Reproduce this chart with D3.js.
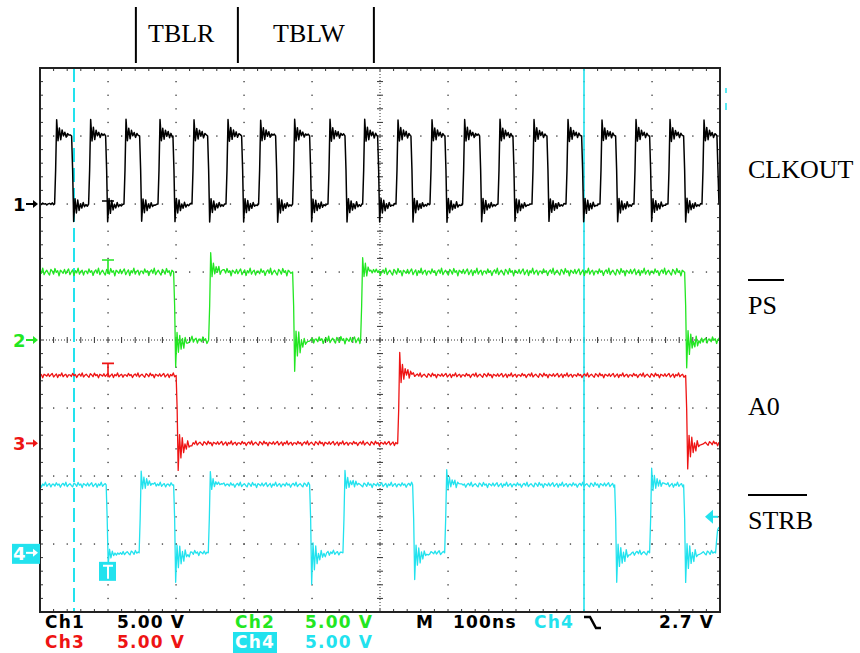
<!DOCTYPE html>
<html><head><meta charset="utf-8">
<script src="https://cdn.jsdelivr.net/npm/d3@7"></script>
<style>body{margin:0;background:#fff}svg{display:block}</style>
</head><body>
<script>
// ---------------- data ----------------
const timeDomainNs = [0, 1000];          // 10 div x 100 ns
const divDomain = [-4, 4];               // 8 vertical divisions
const channelNames = ["CLKOUT", "PS", "A0", "STRB"];
const channelColors = ["#000000", "#22e622", "#ee1414", "#22e2ee"];
const channelOffsetDiv = [2.0, 0, -1.52, -3.13];
const voltsPerDiv = [5, 5, 5, 5];
const noiseVolts = [0.09, 0.32, 0.2, 0.22];

// CH1 clock edges (ns)
const clkRiseNs = [22, 72, 124, 174, 224, 274, 322, 372, 424, 475, 524, 574, 622, 674, 724, 774, 824, 874, 924, 974];
const clkFallNs = [47, 97, 147, 196, 247, 297, 347, 397, 449, 497, 546, 596, 647, 696, 746, 797, 847, 897, 947, 996];
const clkLevels = [0, 5];
const clkPeaks = [-1.3, 6.2];

// other channels: [time ns, new level V, overshoot peak V]
const psStart = 5;
const psEdges = [[197, 0, -2.0], [248.5, 5, 6.4], [372, 0, -2.4], [472, 5, 6.0], [948.5, 0, -2.0]];
const a0Start = 5;
const a0Edges = [[200.7, 0, -2.0], [526.5, 5, 6.6], [950, 0, -1.9]];
const strbStart = 5;
const strbEdges = [[97.8, 0, -0.8], [146.3, 5, 6.1], [197, 0, -2.2], [248, 5, 5.9], [397, 0, -2.3], [446, 5, 6.1],
                   [548.5, 0, -1.9], [595.6, 5, 6.2], [845.6, 0, -2.2], [897, 5, 6.2], [947, 0, -2.2], [994, 1.8, 1.8]];

// edge ringing shape (fraction of overshoot) and hand-read trace hiss
const ringing = [1, -0.3, 0.5, -0.2, 0.35, 0.0, 0.25, -0.1, 0.15, 0.05, 0.1, 0];
const hiss = [0.2, -0.4, 0.7, -0.1, 0.3, -0.8, 0.1, 0.5, -0.3, 0.9, -0.6, 0.0, 0.4, -0.2, -0.7, 0.6, 0.2, -0.5, 0.8, -0.1,
              0.3, -0.9, 0.4, 0.1, -0.3, 0.6, -0.4, 0.2, 0.7, -0.6, 0.0, 0.5, -0.8, 0.3, -0.2, 0.9, -0.5, 0.1, 0.4, -0.7, 0.2];

const cursorNs = [50, 800];
const triggerNs = 100;
const trigLevelDiv = -2.6;
const topLabels = ["TBLR", "TBLW"];
const topMarkNs = [141, 291, 491];
const readRow1 = ["Ch1", "5.00 V", "Ch2", "5.00 V"];
const readRow2 = ["Ch3", "5.00 V", "Ch4", "5.00 V"];
const timebase = ["M", "100ns", "Ch4", "2.7 V"];

// ---------------- layout ----------------
const W = 860, H = 653;
const svg = d3.select("body").append("svg").attr("width", W).attr("height", H);
const x = d3.scaleLinear().domain(timeDomainNs).range([40, 720]);
const y = d3.scaleLinear().domain(divDomain).range([612, 68]);
const yc = (ch, v) => y(channelOffsetDiv[ch] + v / voltsPerDiv[ch]);

// grid
const grid = svg.append("g");
const dot = (px, py) => grid.append("rect").attr("x", px - 0.6).attr("y", py - 0.6).attr("width", 1.3).attr("height", 1.3).attr("fill", "#333");
const minorX = d3.range(0, 1000.01, 20);
const minorY = d3.range(-4, 4.001, 0.2);
d3.range(100, 1000, 100).filter(t => t !== 500).forEach(t => minorY.forEach(d => dot(x(t), y(d))));
d3.range(-3, 4, 1).filter(d => d !== 0).forEach(d => minorX.forEach(t => dot(x(t), y(d))));
// center crosshair
grid.append("line").attr("x1", x(0)).attr("x2", x(1000)).attr("y1", y(0)).attr("y2", y(0))
  .attr("stroke", "#333").attr("stroke-width", 1).attr("stroke-dasharray", "1,2");
grid.append("line").attr("x1", x(500)).attr("x2", x(500)).attr("y1", y(-4)).attr("y2", y(4))
  .attr("stroke", "#333").attr("stroke-width", 1).attr("stroke-dasharray", "1,2");
minorX.forEach(t => grid.append("line").attr("x1", x(t)).attr("x2", x(t)).attr("y1", y(0) - 3).attr("y2", y(0) + 3).attr("stroke", "#333"));
minorY.forEach(d => grid.append("line").attr("x1", x(500) - 3).attr("x2", x(500) + 3).attr("y1", y(d)).attr("y2", y(d)).attr("stroke", "#333"));
// edge ticks
minorX.forEach(t => {
  grid.append("line").attr("x1", x(t)).attr("x2", x(t)).attr("y1", y(4)).attr("y2", y(4) + 3).attr("stroke", "#333");
  grid.append("line").attr("x1", x(t)).attr("x2", x(t)).attr("y1", y(-4)).attr("y2", y(-4) - 3).attr("stroke", "#333");
});
minorY.forEach(d => {
  grid.append("line").attr("x1", x(0)).attr("x2", x(0) + 3).attr("y1", y(d)).attr("y2", y(d)).attr("stroke", "#333");
  grid.append("line").attr("x1", x(1000)).attr("x2", x(1000) - 3).attr("y1", y(d)).attr("y2", y(d)).attr("stroke", "#333");
});

// cursors
svg.append("line").attr("x1", x(cursorNs[0])).attr("x2", x(cursorNs[0])).attr("y1", y(4)).attr("y2", y(-4))
  .attr("stroke", channelColors[3]).attr("stroke-width", 2).attr("stroke-dasharray", "14,6");
svg.append("line").attr("x1", x(cursorNs[1])).attr("x2", x(cursorNs[1])).attr("y1", y(4)).attr("y2", y(-4))
  .attr("stroke", channelColors[3]).attr("stroke-width", 1.6);

// traces
const STEP = 2;
function buildTrace(start, edges, amp, off) {
  const pts = [];
  let k = off;
  const n = () => hiss[(k++) % hiss.length] * amp;
  let lvl = start, t = 0;
  edges.forEach(([te, L, P], i) => {
    const next = i + 1 < edges.length ? edges[i + 1][0] : 1000;
    for (; t < te - 1; t += STEP) pts.push([t, lvl + n()]);
    pts.push([te - 0.5, lvl]);
    pts.push([te + 1, lvl + 0.5 * (L - lvl)]);
    let tt = te + 2.5;
    for (const r of ringing) {
      if (tt >= next - 1.5 || tt > 1000) break;
      pts.push([tt, L + (P - L) * r + n() * 0.5]);
      tt += STEP;
    }
    lvl = L; t = tt;
  });
  for (; t <= 1000; t += STEP) pts.push([t, lvl + n()]);
  return pts;
}
const clkEdges = clkRiseNs.map(t => [t, clkLevels[1], clkPeaks[1]])
  .concat(clkFallNs.map(t => [t, clkLevels[0], clkPeaks[0]])).sort((a, b) => a[0] - b[0]);
const traces = [
  buildTrace(clkLevels[0], clkEdges, noiseVolts[0], 0),
  buildTrace(psStart, psEdges, noiseVolts[1], 7),
  buildTrace(a0Start, a0Edges, noiseVolts[2], 19),
  buildTrace(strbStart, strbEdges, noiseVolts[3], 31)
];
svg.append("clipPath").attr("id", "scr").append("rect").attr("x", 40).attr("y", 68).attr("width", 680).attr("height", 544);
const tg = svg.append("g").attr("clip-path", "url(#scr)");
traces.forEach((pts, ch) => {
  const line = d3.line().x(d => x(d[0])).y(d => yc(ch, d[1]));
  tg.append("path").attr("d", line(pts)).attr("fill", "none")
    .attr("stroke", channelColors[ch]).attr("stroke-width", ch === 0 ? 1.5 : 1.3).attr("stroke-linejoin", "round");
});

// frame
svg.append("rect").attr("x", 40).attr("y", 68).attr("width", 680).attr("height", 544)
  .attr("fill", "none").attr("stroke", "#222").attr("stroke-width", 2);

// trigger "T" markers
[0, 1, 2].forEach(ch => {
  const ty = ch === 0 ? yc(0, 0) - 3 : yc(ch, 5) - 12;
  const tx = x(triggerNs);
  svg.append("path").attr("d", `M${tx - 6},${ty}H${tx + 6}M${tx},${ty}V${ty + 14}`)
    .attr("stroke", channelColors[ch]).attr("stroke-width", 1.6).attr("fill", "none");
});
{
  const tx = x(triggerNs), ty = yc(3, 0) + 9;
  svg.append("rect").attr("x", tx - 9).attr("y", ty).attr("width", 17).attr("height", 19).attr("fill", channelColors[3]);
  svg.append("path").attr("d", `M${tx - 5},${ty + 4}H${tx + 5}M${tx},${ty + 4}V${ty + 17}`)
    .attr("stroke", "#fff").attr("stroke-width", 2).attr("fill", "none");
}

// channel ground markers
const markFont = "DejaVu Sans, sans-serif";
[0, 1, 2, 3].forEach(ch => {
  const my = y(channelOffsetDiv[ch]);
  let col = channelColors[ch];
  if (ch === 3) {
    svg.append("rect").attr("x", 12).attr("y", my - 9).attr("width", 28).attr("height", 20).attr("fill", channelColors[3]);
    col = "#fff";
  }
  svg.append("text").attr("x", 13).attr("y", my + 7).text(String(ch + 1))
    .attr("font-family", markFont).attr("font-size", 18).attr("font-weight", "bold").attr("fill", col);
  svg.append("path").attr("d", `M26,${my}H34`).attr("stroke", col).attr("stroke-width", 2);
  svg.append("path").attr("d", `M33,${my - 4}L38,${my}L33,${my + 4}Z`).attr("fill", col);
});

// trigger level arrow (right)
{
  const ly = y(trigLevelDiv);
  svg.append("path").attr("d", `M705,${ly}L713,${ly - 7}L713,${ly + 7}Z`).attr("fill", channelColors[3]);
  svg.append("line").attr("x1", 712).attr("x2", 718).attr("y1", ly).attr("y2", ly).attr("stroke", channelColors[3]).attr("stroke-width", 2);
  svg.append("line").attr("x1", 726).attr("x2", 726).attr("y1", 88).attr("y2", 93).attr("stroke", channelColors[3]).attr("stroke-width", 1.5);
  svg.append("line").attr("x1", 726).attr("x2", 726).attr("y1", 103).attr("y2", 110).attr("stroke", channelColors[3]).attr("stroke-width", 1.5);
}

// top annotations
const serif = "Liberation Serif, Times New Roman, serif";
topMarkNs.forEach(t => svg.append("line").attr("x1", x(t)).attr("x2", x(t)).attr("y1", 7).attr("y2", 63)
  .attr("stroke", "#000").attr("stroke-width", 2));
svg.append("text").attr("x", 148).attr("y", 42).text(topLabels[0]).attr("font-family", serif).attr("font-size", 26);
svg.append("text").attr("x", 273).attr("y", 42).text(topLabels[1]).attr("font-family", serif).attr("font-size", 26);

// right signal names (PS and STRB are active-low: overlined)
const nameY = [178, 314, 415, 529];
const overlineLen = [0, 36, 0, 59];
channelNames.forEach((nm, i) => {
  svg.append("text").attr("x", 748).attr("y", nameY[i]).text(nm).attr("font-family", serif).attr("font-size", 26);
  if (overlineLen[i]) {
    svg.append("line").attr("x1", 748).attr("x2", 748 + overlineLen[i]).attr("y1", nameY[i] - 34).attr("y2", nameY[i] - 34)
      .attr("stroke", "#000").attr("stroke-width", 2);
  }
});

// readout
const rf = "DejaVu Sans, sans-serif";
const rtext = (s, px, py, col) => svg.append("text").attr("x", px).attr("y", py).text(s)
  .attr("font-family", rf).attr("font-size", 17).attr("font-weight", "bold").attr("fill", col).style("letter-spacing", "1.2px");
rtext(readRow1[0], 45, 628, channelColors[0]);
rtext(readRow1[1], 117, 628, channelColors[0]);
rtext(readRow1[2], 235, 628, channelColors[1]);
rtext(readRow1[3], 305, 628, channelColors[1]);
rtext(readRow2[0], 45, 648, channelColors[2]);
rtext(readRow2[1], 117, 648, channelColors[2]);
svg.append("rect").attr("x", 233).attr("y", 632).attr("width", 44).attr("height", 21).attr("fill", channelColors[3]);
rtext(readRow2[2], 235, 648, "#fff");
rtext(readRow2[3], 305, 648, channelColors[3]);
rtext(timebase[0], 416, 628, "#000");
rtext(timebase[1], 453, 628, "#000");
rtext(timebase[2], 534, 628, channelColors[3]);
svg.append("path").attr("d", "M584,617H590L596,628H601").attr("fill", "none").attr("stroke", "#000").attr("stroke-width", 2.5);
rtext(timebase[3], 659, 628, "#000");
</script>
</body></html>
